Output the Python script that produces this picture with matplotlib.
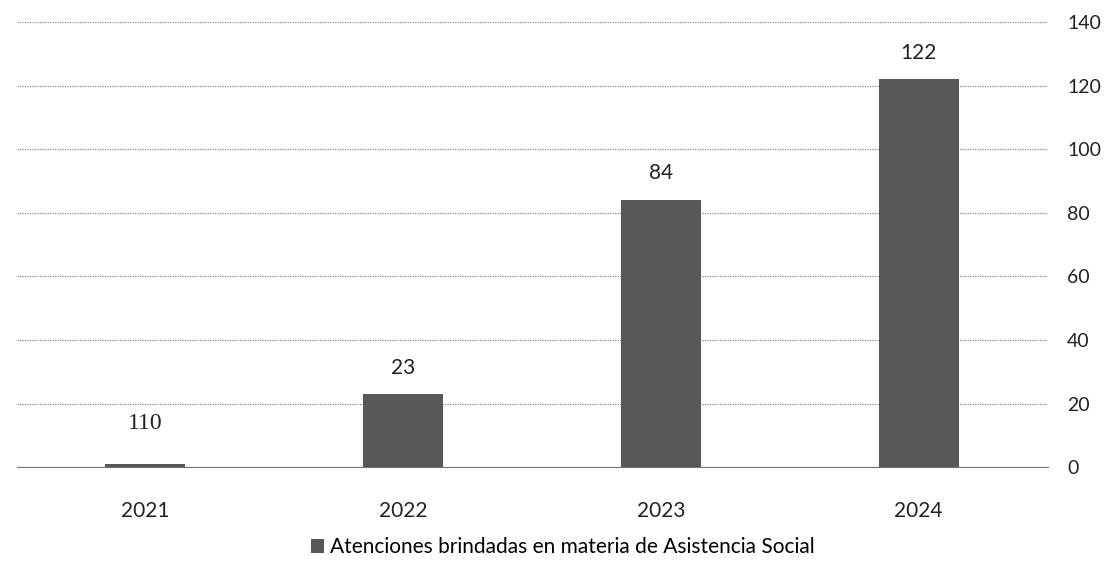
import numpy as np
import matplotlib.pyplot as plt

years = ['2021', '2022', '2023', '2024']
values = [1, 23, 84, 122]
value_labels = ['110', '23', '84', '122']
series_name = 'Atenciones brindadas en materia de Asistencia Social'

plt.rcParams['font.family'] = ['Lato', 'DejaVu Sans']

fig = plt.figure(figsize=(11.05, 5.77), dpi=100)
ax = fig.add_axes([0.015, 0.19, 0.933, 0.772])

x = np.arange(len(years))
bars = ax.bar(x, values, width=0.31, color='#585858', zorder=3,
              label=series_name)

labels = ax.bar_label(bars, labels=value_labels, padding=12, fontsize=15,
                      color='#222222')
# the first label sits well above its (near zero) bar, in a serif face
labels[0].set_fontfamily('Liberation Serif')
labels[0].set_fontsize(17)
labels[0].set_position((0, 22))

ax.set_xlim(-0.5, 3.5)
ax.set_ylim(0, 140)
ax.set_yticks(np.arange(0, 141, 20))
ax.set_xticks(x)
ax.set_xticklabels(years)
ax.yaxis.tick_right()
ax.tick_params(axis='y', length=0, pad=14, labelsize=14, labelcolor='#222222')
ax.tick_params(axis='x', length=0, pad=24, labelsize=15, labelcolor='#222222')
ax.grid(axis='y', color='#888888', linestyle=(0, (1, 1)), linewidth=0.9, zorder=0)
for s in ['top', 'left', 'right']:
    ax.spines[s].set_visible(False)
ax.spines['bottom'].set_color('#777777')
ax.spines['bottom'].set_linestyle((0, (2, 1)))

ax.legend(loc='upper center', bbox_to_anchor=(0.53, -0.115), frameon=False,
          fontsize=15, handlelength=0.6, handleheight=0.6, handletextpad=0.3)

plt.savefig('out.png', dpi=100)
